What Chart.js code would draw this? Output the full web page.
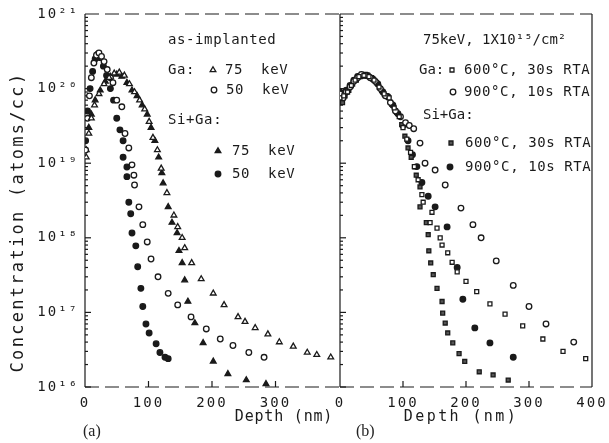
<!DOCTYPE html>
<html>
<head>
<meta charset="utf-8">
<script src="https://cdn.jsdelivr.net/npm/chart.js@4.4.0/dist/chart.umd.min.js"></script>
<style>
  body { margin: 0; background: #fff; width: 609px; height: 443px; overflow: hidden; position: relative; }
  canvas { position: absolute; top: 0; }
  #chartA { left: 0; }
  #chartB { left: 330px; }
  .panel { position: absolute; top: 422px; font: 16px "Liberation Serif", serif; color: #222; }
</style>
</head>
<body>
<canvas id="chartA" width="345" height="443"></canvas>
<canvas id="chartB" width="279" height="443"></canvas>
<div class="panel" style="left:83px">(a)</div>
<div class="panel" style="left:356px">(b)</div>
<script>
// axis ticks
const yTickValues = [1e16, 1e17, 1e18, 1e19, 1e20, 1e21];
const yTickLabels = ['10¹⁶', '10¹⁷', '10¹⁸', '10¹⁹', '10²⁰', '10²¹'];
const xTicksA = [0, 100, 200, 300];
const xTicksB = [0, 100, 200, 300, 400];

// (a) as-implanted, depth in nm / concentration in atoms/cc
const gaDepth75 = [2, 6, 10, 15, 22, 30, 38, 46, 54, 62, 70, 78, 86, 94, 101, 107, 114, 120, 129, 140, 146, 153, 157, 168, 183, 202, 219, 241, 252, 268, 288, 306, 328, 350, 365, 387];
const gaConc75 = [1.2e19, 2.5e19, 4e19, 6e19, 8.5e19, 1.15e20, 1.4e20, 1.6e20, 1.65e20, 1.5e20, 1.15e20, 9e19, 7e19, 5.3e19, 3.6e19, 2.2e19, 1.5e19, 8.5e18, 4e18, 2.0e18, 1.4e18, 1.0e18, 7.3e17, 4.6e17, 2.8e17, 1.8e17, 1.26e17, 8.7e16, 7.5e16, 6.2e16, 5.1e16, 4.0e16, 3.5e16, 2.9e16, 2.7e16, 2.5e16];
const gaDepth50 = [1, 4, 7, 10, 14, 18, 22, 26, 30, 35, 40, 44, 50, 58, 63, 69, 74, 77, 78, 85, 91, 98, 104, 115, 131, 146, 167, 191, 213, 233, 258, 282];
const gaConc50 = [1.5e19, 4e19, 8e19, 1.4e20, 2.2e20, 2.8e20, 3.0e20, 2.7e20, 2.3e20, 1.8e20, 1.4e20, 1.2e20, 7e19, 5.7e19, 2.5e19, 1.6e19, 9.5e18, 6.9e18, 5.1e18, 2.6e18, 1.5e18, 8.8e17, 5.2e17, 3.0e17, 1.8e17, 1.26e17, 8.7e16, 6.0e16, 4.4e16, 3.6e16, 2.9e16, 2.5e16];
const siGaDepth75 = [2, 6, 10, 16, 24, 32, 40, 50, 58, 66, 74, 82, 90, 98, 104, 110, 116, 121, 123, 131, 137, 145, 148, 153, 157, 162, 173, 186, 202, 225, 254, 285];
const siGaConc75 = [1.5e19, 3e19, 4.5e19, 7e19, 9.5e19, 1.25e20, 1.45e20, 1.55e20, 1.45e20, 1.2e20, 9.5e19, 8e19, 6e19, 4.5e19, 3e19, 2e19, 1.2e19, 7.4e18, 5.4e18, 2.6e18, 1.6e18, 1.16e18, 6.7e17, 4.6e17, 2.7e17, 1.4e17, 7.2e16, 3.9e16, 2.2e16, 1.5e16, 1.24e16, 1.1e16];
const siGaDepth50 = [1, 4, 8, 12, 16, 20, 24, 29, 34, 40, 45, 50, 55, 60, 60, 66, 66, 69, 72, 74, 80, 83, 88, 91, 96, 101, 112, 118, 126, 131];
const siGaConc50 = [2e19, 5e19, 1e20, 1.7e20, 2.5e20, 2.9e20, 2.6e20, 2e20, 1.5e20, 1e20, 7e19, 4e19, 2.8e19, 2e19, 1.2e19, 8.9e18, 6.6e18, 3.0e18, 2.1e18, 1.16e18, 7.8e17, 4.1e17, 2.1e17, 1.2e17, 7.0e16, 5.3e16, 3.8e16, 2.9e16, 2.5e16, 2.4e16];

// (b) 75 keV, 1x10^15/cm2 after RTA
const gaDepth600 = [0, 6, 12, 18, 24, 30, 38, 46, 54, 62, 70, 78, 86, 94, 100, 106, 112, 118, 124, 130, 132, 143, 146, 154, 159, 162, 171, 178, 186, 200, 217, 238, 262, 290, 322, 354, 390];
const gaConc600 = [7.5e19, 8e19, 9e19, 1.1e20, 1.3e20, 1.45e20, 1.5e20, 1.45e20, 1.3e20, 1.05e20, 8.5e19, 7.5e19, 5.5e19, 4.2e19, 3e19, 2.1e19, 1.4e19, 9e18, 6e18, 3.8e18, 3.0e18, 1.6e18, 2.2e18, 1.35e18, 1.0e18, 8e17, 6.3e17, 4.7e17, 3.5e17, 2.6e17, 1.9e17, 1.3e17, 9.5e16, 6.6e16, 4.4e16, 3.0e16, 2.4e16];
const gaDepth900 = [0, 5, 10, 16, 22, 28, 34, 40, 48, 56, 64, 72, 80, 88, 96, 104, 110, 117, 127, 135, 151, 167, 192, 211, 224, 248, 275, 300, 327, 371];
const gaConc900 = [8.5e19, 7.5e19, 9e19, 1.05e20, 1.25e20, 1.4e20, 1.55e20, 1.5e20, 1.4e20, 1.25e20, 1.0e20, 8e19, 6.5e19, 5e19, 4.2e19, 3.5e19, 3.2e19, 2.9e19, 1.86e19, 1.0e19, 8.1e18, 5.1e18, 2.5e18, 1.5e18, 1.0e18, 4.9e17, 2.3e17, 1.2e17, 7.0e16, 4.0e16];
const siDepth600 = [0, 4, 8, 14, 20, 26, 32, 40, 50, 58, 66, 74, 82, 90, 98, 103, 108, 113, 119, 121, 127, 127, 137, 140, 141, 144, 148, 154, 162, 163, 167, 171, 179, 189, 198, 221, 243, 267];
const siConc600 = [7e19, 6.5e19, 8e19, 9.5e19, 1.15e20, 1.3e20, 1.45e20, 1.55e20, 1.4e20, 1.2e20, 9.5e19, 8e19, 6.2e19, 4.8e19, 3.3e19, 2.3e19, 1.6e19, 1.2e19, 8.9e18, 6.9e18, 4.8e18, 2.6e18, 1.6e18, 1.1e18, 6.7e17, 4.6e17, 3.2e17, 2.1e17, 1.4e17, 9.8e16, 7.2e16, 5.3e16, 3.9e16, 2.8e16, 2.2e16, 1.6e16, 1.45e16, 1.24e16];
const siDepth900 = [0, 5, 10, 16, 22, 28, 35, 44, 52, 60, 68, 76, 84, 92, 100, 108, 115, 122, 130, 140, 151, 170, 186, 195, 214, 238, 275];
const siConc900 = [9e19, 8.5e19, 9.5e19, 1.1e20, 1.3e20, 1.45e20, 1.5e20, 1.5e20, 1.35e20, 1.15e20, 9e19, 7.8e19, 6e19, 4.6e19, 3.2e19, 2e19, 1.3e19, 9e18, 5.5e18, 3.6e18, 2.6e18, 1.4e18, 4.0e17, 1.5e17, 6.2e16, 3.9e16, 2.5e16];

const INK = '#1a1a1a';
const MONO = '"DejaVu Sans Mono", monospace';

function pts(xs, ys) {
  return xs.map((x, i) => ({ x: x, y: ys[i] }));
}

function series(label, xs, ys, style, filled) {
  return {
    label: label,
    data: pts(xs, ys),
    pointStyle: style,
    pointRadius: style === 'triangle' ? 3.3 : 2.8,
    borderWidth: 1.3,
    borderColor: INK,
    backgroundColor: filled ? (style === 'rect' ? '#555' : INK) : '#fff',
    showLine: false
  };
}

// wider letters like the plotter font (tick labels)
const spacing = {
  id: 'spacing',
  beforeLayout(chart) { chart.ctx.letterSpacing = '2px'; },
  beforeDraw(chart) { chart.ctx.letterSpacing = '2px'; }
};

// frame with inward ticks
const frame = {
  id: 'frame',
  beforeDatasetsDraw(chart, args, opts) {
    const { ctx, chartArea: a } = chart;
    const x = chart.scales.x, y = chart.scales.y;
    const seg = (x1, y1, x2, y2) => { ctx.beginPath(); ctx.moveTo(x1, y1); ctx.lineTo(x2, y2); ctx.stroke(); };
    ctx.save();
    ctx.strokeStyle = INK;
    ctx.lineWidth = 1.2;
    seg(a.left, a.top, a.left, a.bottom);
    if (opts.right) seg(a.right, a.top, a.right, a.bottom);
    ctx.setLineDash([14, 6]);
    seg(a.left, a.top, a.right, a.top);
    seg(a.left, a.bottom, a.right, a.bottom);
    ctx.setLineDash([]);
    for (let e = 16; e < 21; e++) {
      for (let m = 1; m < 10; m++) {
        const py = y.getPixelForValue(m * Math.pow(10, e));
        seg(a.left, py, a.left + (m === 1 ? 6 : 3), py);
      }
    }
    x.ticks.forEach(t => {
      const px = x.getPixelForValue(t.value);
      if (px > a.left + 1 && px < a.right - 1) seg(px, a.bottom, px, a.bottom - 6);
    });
    ctx.restore();
  }
};

// legend text, symbols and axis titles written on each panel
const notes = {
  id: 'notes',
  afterDraw(chart, args, opts) {
    const ctx = chart.ctx;
    ctx.save();
    ctx.fillStyle = INK;
    ctx.textBaseline = 'middle';
    opts.titles.forEach(t => {
      ctx.save();
      ctx.letterSpacing = t.spacing + 'px';
      ctx.font = t.size + 'px ' + MONO;
      ctx.textAlign = 'center';
      ctx.translate(t.x, t.y);
      ctx.rotate(t.rot || 0);
      ctx.fillText(t.text, 0, 0);
      ctx.restore();
    });
    ctx.font = '14px ' + MONO;
    opts.lines.forEach(l => {
      ctx.letterSpacing = (l.spacing === undefined ? 0.6 : l.spacing) + 'px';
      ctx.fillText(l.text, l.x, l.y);
    });
    opts.marks.forEach(m => {
      const ds = chart.data.datasets[m.ds];
      ctx.strokeStyle = ds.borderColor;
      ctx.fillStyle = ds.backgroundColor;
      ctx.lineWidth = ds.borderWidth;
      Chart.helpers.drawPoint(ctx, { pointStyle: ds.pointStyle, radius: ds.pointRadius, borderWidth: ds.borderWidth, rotation: 0 }, m.x, m.y);
    });
    ctx.restore();
  }
};

function fixBox(w, h) {
  return function (scale) {
    if (w !== null) scale.width = w;
    if (h !== null) scale.height = h;
    scale.paddingLeft = 0; scale.paddingRight = 0;
    scale.paddingTop = 0; scale.paddingBottom = 0;
  };
}

function options(cfg) {
  return {
    responsive: false,
    animation: false,
    layout: { padding: { top: 14, right: cfg.padRight, left: 0, bottom: 0 } },
    plugins: {
      legend: { display: false },
      tooltip: { enabled: false },
      frame: { right: cfg.right },
      notes: cfg.notes
    },
    scales: {
      x: {
        type: 'linear', min: 0, max: 400,
        afterBuildTicks: s => { s.ticks = cfg.xTicks.map(v => ({ value: v })); },
        afterFit: fixBox(null, 56),
        grid: { display: false, drawTicks: false },
        border: { display: false },
        ticks: { color: INK, font: { family: MONO, size: 14 }, padding: 8, maxRotation: 0, autoSkip: false }
      },
      y: {
        type: 'logarithmic', min: 1e16, max: 1e21,
        afterBuildTicks: s => { s.ticks = yTickValues.map(v => ({ value: v })); },
        afterFit: fixBox(cfg.yWidth, null),
        grid: { display: false, drawTicks: false },
        border: { display: false },
        ticks: {
          display: cfg.yLabels, color: INK, font: { family: MONO, size: 14 }, padding: 6,
          callback: v => yTickLabels[yTickValues.indexOf(v)]
        }
      }
    }
  };
}

new Chart(document.getElementById('chartA'), {
  type: 'scatter',
  data: {
    datasets: [
      series('Ga 75 keV', gaDepth75, gaConc75, 'triangle', false),
      series('Ga 50 keV', gaDepth50, gaConc50, 'circle', false),
      series('Si+Ga 75 keV', siGaDepth75, siGaConc75, 'triangle', true),
      series('Si+Ga 50 keV', siGaDepth50, siGaConc50, 'circle', true)
    ]
  },
  options: options({
    padRight: 6, right: false, yWidth: 85, yLabels: true, xTicks: xTicksA,
    notes: {
      titles: [
        { text: 'Concentration (atoms/cc)', x: 19, y: 222, rot: -Math.PI / 2, size: 17, spacing: 2.3 },
        { text: 'Depth (nm)', x: 284, y: 417, size: 15, spacing: 0.8 }
      ],
      lines: [
        { text: 'as-implanted', x: 168, y: 40 },
        { text: 'Ga:', x: 168, y: 70 },
        { text: '75  keV', x: 225, y: 70 },
        { text: '50  keV', x: 226, y: 90 },
        { text: 'Si+Ga:', x: 168, y: 120 },
        { text: '75  keV', x: 232, y: 151 },
        { text: '50  keV', x: 232, y: 174 }
      ],
      marks: [
        { ds: 0, x: 213, y: 70 },
        { ds: 1, x: 214, y: 90 },
        { ds: 2, x: 218, y: 151 },
        { ds: 3, x: 218, y: 174 }
      ]
    }
  }),
  plugins: [spacing, frame, notes]
});

// panel (b) canvas starts at page x = 330
new Chart(document.getElementById('chartB'), {
  type: 'scatter',
  data: {
    datasets: [
      series('Ga 600C 30s', gaDepth600, gaConc600, 'rect', false),
      series('Ga 900C 10s', gaDepth900, gaConc900, 'circle', false),
      series('Si+Ga 600C 30s', siDepth600, siConc600, 'rect', true),
      series('Si+Ga 900C 10s', siDepth900, siConc900, 'circle', true)
    ]
  },
  options: options({
    padRight: 17, right: true, yWidth: 10, yLabels: false, xTicks: xTicksB,
    notes: {
      titles: [
        { text: 'Depth (nm)', x: 131, y: 417, size: 15, spacing: 2.4 }
      ],
      lines: [
        { text: '75keV, 1X10¹⁵/cm²', x: 93, y: 40, spacing: 0 },
        { text: 'Ga:', x: 89, y: 70, spacing: 0 },
        { text: '600°C, 30s RTA', x: 134, y: 70 },
        { text: '900°C, 10s RTA', x: 134, y: 92 },
        { text: 'Si+Ga:', x: 93, y: 115, spacing: 0 },
        { text: '600°C, 30s RTA', x: 135, y: 143 },
        { text: '900°C, 10s RTA', x: 135, y: 167 }
      ],
      marks: [
        { ds: 0, x: 122, y: 70 },
        { ds: 1, x: 123, y: 92 },
        { ds: 2, x: 121, y: 143 },
        { ds: 3, x: 120, y: 167 }
      ]
    }
  }),
  plugins: [spacing, frame, notes]
});
</script>
</body>
</html>
